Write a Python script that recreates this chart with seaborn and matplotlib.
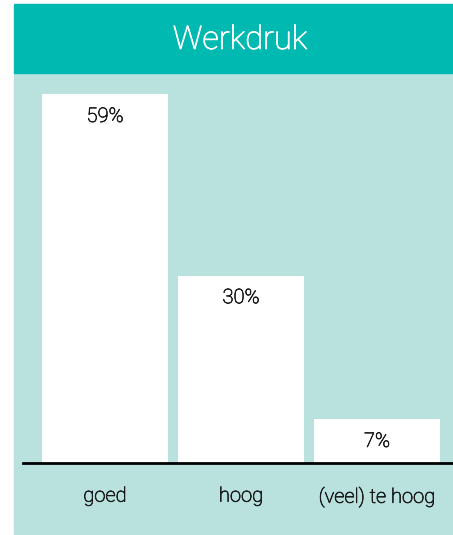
import matplotlib
matplotlib.use("Agg")
import matplotlib.pyplot as plt
from matplotlib.patches import Rectangle
import matplotlib.patheffects as pe
import seaborn as sns
import pandas as pd

categories = ["goed", "hoog", "(veel) te hoog"]
values = [59, 30, 7]
value_labels = ["59%", "30%", "7%"]
title = "Werkdruk"

HEADER = "#00B9B1"
LIGHT = "#B9E2DF"
TEXT = "#1A1A1A"

sns.set_theme(style="white")
plt.rcParams["font.family"] = ["Roboto", "DejaVu Sans"]

W, H = 453, 535
fig = plt.figure(figsize=(W / 100, H / 100), dpi=100)

# background panels (figure coordinates)
fig.patches.append(Rectangle((14 / W, 1 / H), (W - 14) / W, (462 - 1) / H,
                             transform=fig.transFigure, color=LIGHT, zorder=-10))
fig.patches.append(Rectangle((14 / W, (H - 73) / H), (W - 14) / W, 69 / H,
                             transform=fig.transFigure, color=HEADER, zorder=-10))

ax = fig.add_axes([23 / W, (H - 463) / H, 430 / W, (463 - 73) / H])
ax.set_facecolor("none")
ax.patch.set_alpha(0)

df = pd.DataFrame({"cat": categories, "val": values})
sns.barplot(data=df, x="cat", y="val", color="white", width=0.926,
            saturation=1, edgecolor="none", linewidth=0, ax=ax)

ax.set_xlim(-0.603, 2.559)
ax.set_ylim(0, 390 / 6.25)

thick_dark = [pe.withStroke(linewidth=0.5, foreground=TEXT)]
thick_white = [pe.withStroke(linewidth=0.6, foreground="white")]

for i, (v, lab) in enumerate(zip(values, value_labels)):
    ax.annotate(lab, (i, v), xytext=(0, -16), textcoords="offset points",
                ha="center", va="center", fontsize=14.5, color=TEXT,
                fontweight="light", path_effects=thick_dark)

for s in ["top", "right", "left"]:
    ax.spines[s].set_visible(False)
ax.spines["bottom"].set_color("black")
ax.spines["bottom"].set_linewidth(2)
ax.spines["bottom"].set_zorder(5)

ax.set_xlabel("")
ax.set_ylabel("")
ax.set_yticks([])
ax.tick_params(axis="x", length=0, pad=17, labelsize=14.5, labelcolor=TEXT)
for t in ax.get_xticklabels():
    t.set_fontweight("light")
    t.set_path_effects(thick_dark)

fig.text(240 / W, (H - 40) / H, title, ha="center", va="center",
         fontsize=23.5, color="white", fontweight="light",
         path_effects=thick_white)

fig.savefig("out.png", dpi=100, facecolor="white")
